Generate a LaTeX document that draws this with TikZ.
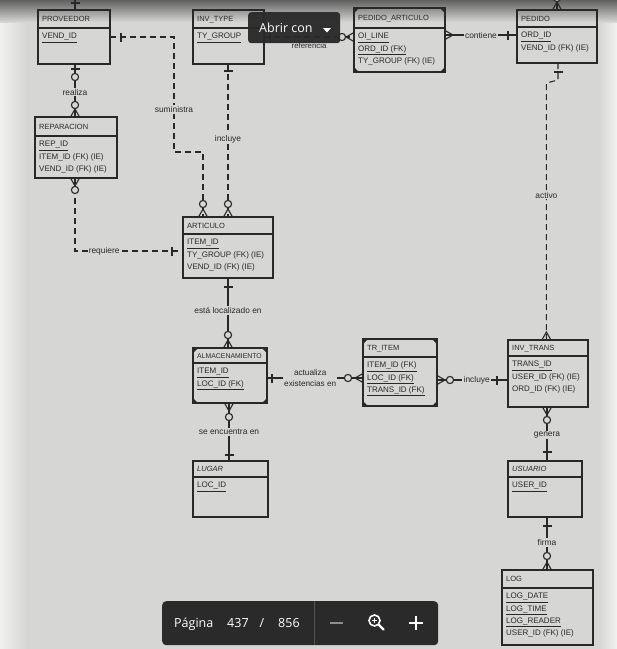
\documentclass[tikz,border=0pt]{standalone}
\usepackage{fontspec}
\setmainfont{Liberation Sans}
\newfontfamily\uifont{Open Sans}
\usetikzlibrary{calc}
\definecolor{bg}{RGB}{214,214,212}
\definecolor{ink}{RGB}{40,40,40}
\definecolor{uibg}{RGB}{42,42,42}
\tikzset{
  ebox/.style={draw=ink, line width=1.1pt, inner sep=0pt, outer sep=0pt},
  etitle/.style={anchor=base west, inner sep=0pt, font=\fontsize{7.5}{9}\selectfont, text=ink},
  eattr/.style={anchor=base west, inner sep=0pt, font=\fontsize{8}{9}\selectfont, text=ink},
  conn/.style={draw=ink, line width=1.1pt},
  dconn/.style={conn, dash pattern=on 6pt off 4pt},
  lbl/.style={fill=bg, inner sep=1.2pt, font=\fontsize{8.4}{10}\selectfont, text=ink, align=center},
  ui/.style={inner sep=0pt, text=white, font=\uifont\fontsize{12.5}{14}\selectfont},
  pics/crowfoot/.style={code={\draw[conn] (0,-4.5) -- (8,0) -- (0,4.5);}},
  pics/ring/.style={code={\draw[conn, fill=bg] (#1,0) circle[radius=3.6pt];}},
  pics/onebar/.style={code={\draw[conn] (#1,-4.5) -- (#1,4.5);}},
}
\newcommand\entity[8]{%
  \node[ebox, minimum width={(#4-#2)*1pt}, minimum height={(#5-#3)*1pt}, anchor=north west] (#1) at (#2,#3) {};
  \draw[conn] (#2,#6) -- (#4,#6);
  \node[etitle] (#1-t) at ({#2+4},{(#3+#6)/2+2.8}) {#7};
  \foreach \attr [count=\i] in {#8} {\node[eattr] (#1-\i) at ({#2+4},{#6+12.3*\i-1.5}) {\attr};}
}
\newcommand\depc[1]{%
  \fill[ink] (#1.north west) -- ++(5,0) -- ++(-5,5) -- cycle;
  \fill[ink] (#1.north east) -- ++(-5,0) -- ++(5,5) -- cycle;
  \fill[ink] (#1.south west) -- ++(5,0) -- ++(-5,-5) -- cycle;
  \fill[ink] (#1.south east) -- ++(-5,0) -- ++(5,-5) -- cycle;
}
\begin{document}
\begin{tikzpicture}[x=1pt,y=-1pt]
\useasboundingbox (0,0) rectangle (617,649);
\clip (0,0) rectangle (617,649);
% background
\fill[bg] (0,0) rectangle (617,649);
\shade[left color=gray!12, right color=bg] (0,0) rectangle (26,649);
\shade[left color=bg, right color=gray!10] (600,0) rectangle (617,649);
\shade[top color=black!62, bottom color=bg] (0,0) rectangle (617,22);

% entities
\entity{prov}{38}{10}{110}{64}{28}{PROVEEDOR}{\underline{VEND\_ID}}
\entity{invt}{193}{10}{264}{64}{28}{INV\_TYPE}{\underline{TY\_GROUP}}
\entity{rep}{35}{117}{117}{178}{136}{REPARACION}{\underline{REP\_ID},ITEM\_ID (FK) (IE),VEND\_ID (FK) (IE)}
\entity{pa}{354}{8}{445}{72}{28}{PEDIDO\_ARTICULO}{\underline{OI\_LINE},\underline{ORD\_ID (FK)},TY\_GROUP (FK) (IE)}
\entity{ped}{517}{10}{597}{63}{27}{PEDIDO}{\underline{ORD\_ID},VEND\_ID (FK) (IE)}
\entity{art}{183}{217}{273}{278}{234}{ARTICULO}{\underline{ITEM\_ID},TY\_GROUP (FK) (IE),VEND\_ID (FK) (IE)}
\entity{alm}{193}{348}{267}{403}{363}{\fontsize{6.9}{9}\selectfont ALMACENAMIENTO}{\underline{ITEM\_ID},\underline{LOC\_ID (FK)}}
\entity{lug}{193}{461}{268}{517}{477}{\textit{LUGAR}}{\underline{LOC\_ID}}
\entity{tri}{363}{339}{437}{406}{357}{TR\_ITEM}{\underline{ITEM\_ID (FK)},\underline{LOC\_ID (FK)},\underline{TRANS\_ID (FK)}}
\entity{invtr}{508}{340}{588}{407}{356}{INV\_TRANS}{\underline{TRANS\_ID},USER\_ID (FK) (IE),ORD\_ID (FK) (IE)}
\entity{usu}{508}{461}{582}{517}{477}{\textit{USUARIO}}{\underline{USER\_ID}}
\entity{log}{502}{570}{593}{645}{588}{LOG}{\underline{LOG\_DATE},\underline{LOG\_TIME},\underline{LOG\_READER},USER\_ID (FK) (IE)}
\depc{pa}
\depc{alm}
\depc{tri}

% named bend points and free ends
\coordinate (topA) at (75,-3);
\coordinate (topB) at (557,-3);
\coordinate (s1) at (174,37);
\coordinate (s2) at (174,152);
\coordinate (s3) at (203,152);
\coordinate (a1) at (558,80);
\coordinate (a2) at (546.4,83);
\coordinate (r1) at (75,251);

% connectors
\draw[conn] (prov.north -| 75,0) -- (topA);
\draw[conn] (ped.north -| 557,0) -- (topB);
\draw[conn] (prov.south -| 75,0) -- (rep.north -| 75,0) node[lbl, pos=0.53] {realiza};
\draw[dconn] (prov.east |- 0,37) -- (s1) -- (s2) node[lbl, pos=0.63] {suministra} -- (s3) -- (art.north -| 203,0);
\draw[dconn] (invt.south -| 228,0) -- (art.north -| 228,0) node[lbl, pos=0.49] {incluye};
\draw[dconn] (invt.east |- 0,37) -- (pa.west |- 0,37) node[pos=0.5, yshift=-9pt, inner sep=0pt, font=\fontsize{7.8}{10}\selectfont, text=ink] {referencia};
\draw[conn] (pa.east |- 0,35) -- (ped.west |- 0,35) node[lbl, pos=0.5] {contiene};
\draw[dconn] (ped.south -| 558,0) -- (a1) -- (a2) -- (invtr.north -| a2) node[lbl, pos=0.436] {activo};
\draw[dconn] (rep.south -| 75,0) -- (r1) -- (art.west |- r1) node[lbl, pos=0.27] {requiere};
\draw[conn] (art.south -| 228,0) -- (alm.north -| 228,0) node[lbl, pos=0.46] {está localizado en};
\draw[conn] (alm.south -| 229,0) -- (lug.north -| 229,0) node[lbl, pos=0.5] {se encuentra en};
\draw[conn] (alm.east |- 0,378) -- (tri.west |- 0,378) node[lbl, pos=0.45, font=\fontsize{8.2}{10.5}\selectfont] {actualiza\\existencias en};
\draw[conn] (tri.east |- 0,380) -- (invtr.west |- 0,380) node[lbl, pos=0.56] {incluye};
\draw[conn] (invtr.south -| 547,0) -- (usu.north -| 547,0) node[lbl, pos=0.52] {genera};
\draw[conn] (usu.south -| 547,0) -- (log.north -| 547,0) node[lbl, pos=0.48] {firma};

% cardinality marks
\pic[rotate=90] at (prov.north -| 75,0) {onebar=7};
\pic[rotate=90] at (ped.north -| 557,0) {crowfoot};
\pic[rotate=90] at (ped.north -| 557,0) {ring=12};
\pic[rotate=-90] at (prov.south -| 75,0) {onebar=5};
\pic[rotate=-90] at (prov.south -| 75,0) {ring=13};
\pic[rotate=90] at (rep.north -| 75,0) {crowfoot};
\pic[rotate=90] at (rep.north -| 75,0) {ring=12};
\pic at (prov.east |- 0,37) {onebar=11};
\pic[rotate=90] at (art.north -| 203,0) {crowfoot};
\pic[rotate=90] at (art.north -| 203,0) {ring=13};
\pic[rotate=-90] at (invt.south -| 228,0) {onebar=7};
\pic[rotate=90] at (art.north -| 228,0) {crowfoot};
\pic[rotate=90] at (art.north -| 228,0) {ring=13};
\pic at (invt.east |- 0,37) {onebar=6};
\pic[rotate=180] at (pa.west |- 0,37) {crowfoot};
\pic[rotate=180] at (pa.west |- 0,37) {ring=12};
\pic at (pa.east |- 0,35) {crowfoot};
\pic[rotate=180] at (ped.west |- 0,35) {onebar=9};
\pic[rotate=-90] at (ped.south -| 558,0) {onebar=9};
\pic[rotate=90] at (invtr.north -| a2) {crowfoot};
\pic[rotate=-90] at (rep.south -| 75,0) {crowfoot};
\pic[rotate=-90] at (rep.south -| 75,0) {ring=12};
\pic[rotate=180] at (art.west |- r1) {onebar=11};
\pic[rotate=-90] at (art.south -| 228,0) {onebar=9};
\pic[rotate=90] at (alm.north -| 228,0) {crowfoot};
\pic[rotate=90] at (alm.north -| 228,0) {ring=13};
\pic[rotate=-90] at (alm.south -| 229,0) {crowfoot};
\pic[rotate=-90] at (alm.south -| 229,0) {ring=14};
\pic[rotate=90] at (lug.north -| 229,0) {onebar=6};
\pic at (alm.east |- 0,378) {onebar=5};
\pic[rotate=180] at (tri.west |- 0,378) {crowfoot};
\pic[rotate=180] at (tri.west |- 0,378) {ring=15};
\pic at (tri.east |- 0,380) {crowfoot};
\pic at (tri.east |- 0,380) {ring=13};
\pic[rotate=180] at (invtr.west |- 0,380) {onebar=11};
\pic[rotate=-90] at (invtr.south -| 547,0) {crowfoot};
\pic[rotate=-90] at (invtr.south -| 547,0) {ring=13};
\pic[rotate=90] at (usu.north -| 547,0) {onebar=9};
\pic[rotate=-90] at (usu.south -| 547,0) {onebar=9};
\pic[rotate=90] at (log.north -| 547,0) {crowfoot};
\pic[rotate=90] at (log.north -| 547,0) {ring=14};

% viewer overlay: "Abrir con" button
\node[fill=uibg, fill opacity=0.96, rounded corners=3pt, minimum width=92pt, minimum height=31pt, anchor=north west, inner sep=0pt] (abrir) at (248,12) {};
\node[ui, anchor=base west] (abrirtxt) at (259,32) {Abrir con};
\fill[white] (323,28) -- (331,28) -- (327,32.5) -- cycle;

% viewer overlay: page bar
\node[fill=uibg, rounded corners=4pt, minimum width=276pt, minimum height=44pt, anchor=north west, inner sep=0pt] (pbar) at (162,601) {};
\node[ui, anchor=base west] (pg) at (174,627.5) {Página};
\node[ui, anchor=base west] (pgn) at (227,627.5) {437};
\node[ui, anchor=base] (pgs) at (262,627.5) {/};
\node[ui, anchor=base west] (pgt) at (278,627.5) {856};
\draw[color={rgb,255:red,85;green,85;blue,85}, line width=0.8pt] (314,601) -- (314,645);
\draw[color={rgb,255:red,140;green,140;blue,140}, line width=1.6pt] (330,623) -- (343,623);
\draw[white, line width=1.6pt] (374.5,620.5) circle[radius=5.5pt];
\draw[white, line width=2.2pt, line cap=round] (379,625) -- (383.5,629.5);
\draw[white, line width=1.1pt] (371.8,620.5) -- (377.2,620.5) (374.5,617.8) -- (374.5,623.2);
\draw[white, line width=1.8pt] (409,623) -- (423,623) (416,616) -- (416,630);
\end{tikzpicture}
\end{document}
